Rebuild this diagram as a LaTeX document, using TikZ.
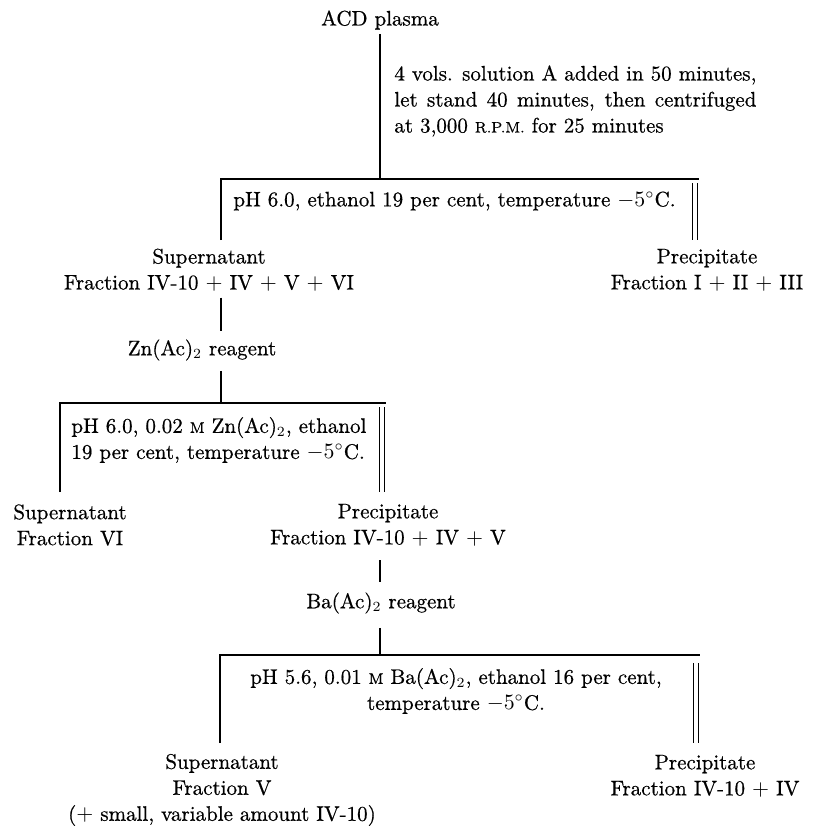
\documentclass[tikz,border=0pt]{standalone}
\usepackage{fontspec}
\setmainfont{Latin Modern Roman}[FakeBold=0.6]
\usepackage{tikz}
\usetikzlibrary{positioning, calc}
\newcommand{\smcaps}[1]{{\fontsize{7.6}{9}\selectfont #1}}

\begin{document}
\begin{tikzpicture}[
    x=0.5pt, y=-0.5pt,
    every node/.style={font=\fontsize{10.5}{13}\selectfont, inner sep=0pt},
    txt/.style={align=center},
    cond/.style={align=left},
    link/.style={line width=0.75pt},
    dbl/.style={double, double distance=1.8pt, line width=0.5pt},
]
    \useasboundingbox (0,0) rectangle (814,826);

    % Start
    \node (plasma) at (380,20) {ACD plasma};
    \node[cond, anchor=west] (step1) at (394,101)
        {\makebox[181pt][s]{4 vols. solution A added in 50 minutes,}\\
         \makebox[181pt][s]{let stand 40 minutes, then centrifuged}\\
         at 3,000 \smcaps{R.P.M.} for 25 minutes};

    % First split
    \coordinate (s1) at (380,179);
    \coordinate (s1l) at (221,240);
    \coordinate (s1r) at (699,179);
    \coordinate (s1top) at (695,183);
    \coordinate (s1bot) at (695,240);
    \node[anchor=west] (cond1) at (233,201) {pH 6.0, ethanol 19 per cent, temperature $-5^\circ$C.};
    \node[txt] (super1) at (209,270) {Supernatant\\Fraction IV-10 $+$ IV $+$ V $+$ VI};
    \node[txt] (prec1) at (707,270) {Precipitate\\Fraction I $+$ II $+$ III};

    \draw[link, shorten <=2pt] (plasma) -- (s1);
    \draw[link] (s1l) |- (s1r);
    \draw[dbl] (s1top) -- (s1bot);

    % Zinc step
    \node (zn) at (202,350) {Zn(Ac)$_2$ reagent};
    \coordinate (s2) at (221,403);
    \draw[link, shorten <=3pt, shorten >=4pt] (super1.south -| s2) -- (zn.north -| s2);
    \draw[link, shorten <=5pt] (zn.south -| s2) -- (s2);

    % Second split
    \coordinate (s2l) at (60,492);
    \coordinate (s2r) at (386,403);
    \coordinate (s2top) at (382,407);
    \coordinate (s2bot) at (382,492);
    \node[cond, anchor=west] (cond2) at (71,440) {pH 6.0, 0.02 \smcaps{M} Zn(Ac)$_2$, ethanol\\19 per cent, temperature $-5^\circ$C.};
    \node[txt] (super2) at (70,525) {Supernatant\\Fraction VI};
    \node[txt] (prec2) at (388,525) {Precipitate\\Fraction IV-10 $+$ IV $+$ V};

    \draw[link] (s2l) |- (s2r);
    \draw[dbl] (s2top) -- (s2bot);

    % Barium step
    \node (ba) at (381,603) {Ba(Ac)$_2$ reagent};
    \coordinate (s3) at (380,655);
    \draw[link, shorten <=7pt, shorten >=5pt] (prec2.south -| s3) -- (ba.north -| s3);
    \draw[link, shorten <=7pt] (ba.south -| s3) -- (s3);

    % Third split
    \coordinate (s3l) at (220,743);
    \coordinate (s3r) at (700,655);
    \coordinate (s3top) at (696,663);
    \coordinate (s3bot) at (696,743);
    \node[txt] (cond3) at (456,691) {pH 5.6, 0.01 \smcaps{M} Ba(Ac)$_2$, ethanol 16 per cent,\\temperature $-5^\circ$C.};
    \node[txt] (super3) at (222,790) {Supernatant\\Fraction V\\($+$ small, variable amount IV-10)};
    \node[txt] (prec3) at (705,776) {Precipitate\\Fraction IV-10 $+$ IV};

    \draw[link] (s3l) |- (s3r);
    \draw[dbl] (s3top) -- (s3bot);
\end{tikzpicture}
\end{document}
